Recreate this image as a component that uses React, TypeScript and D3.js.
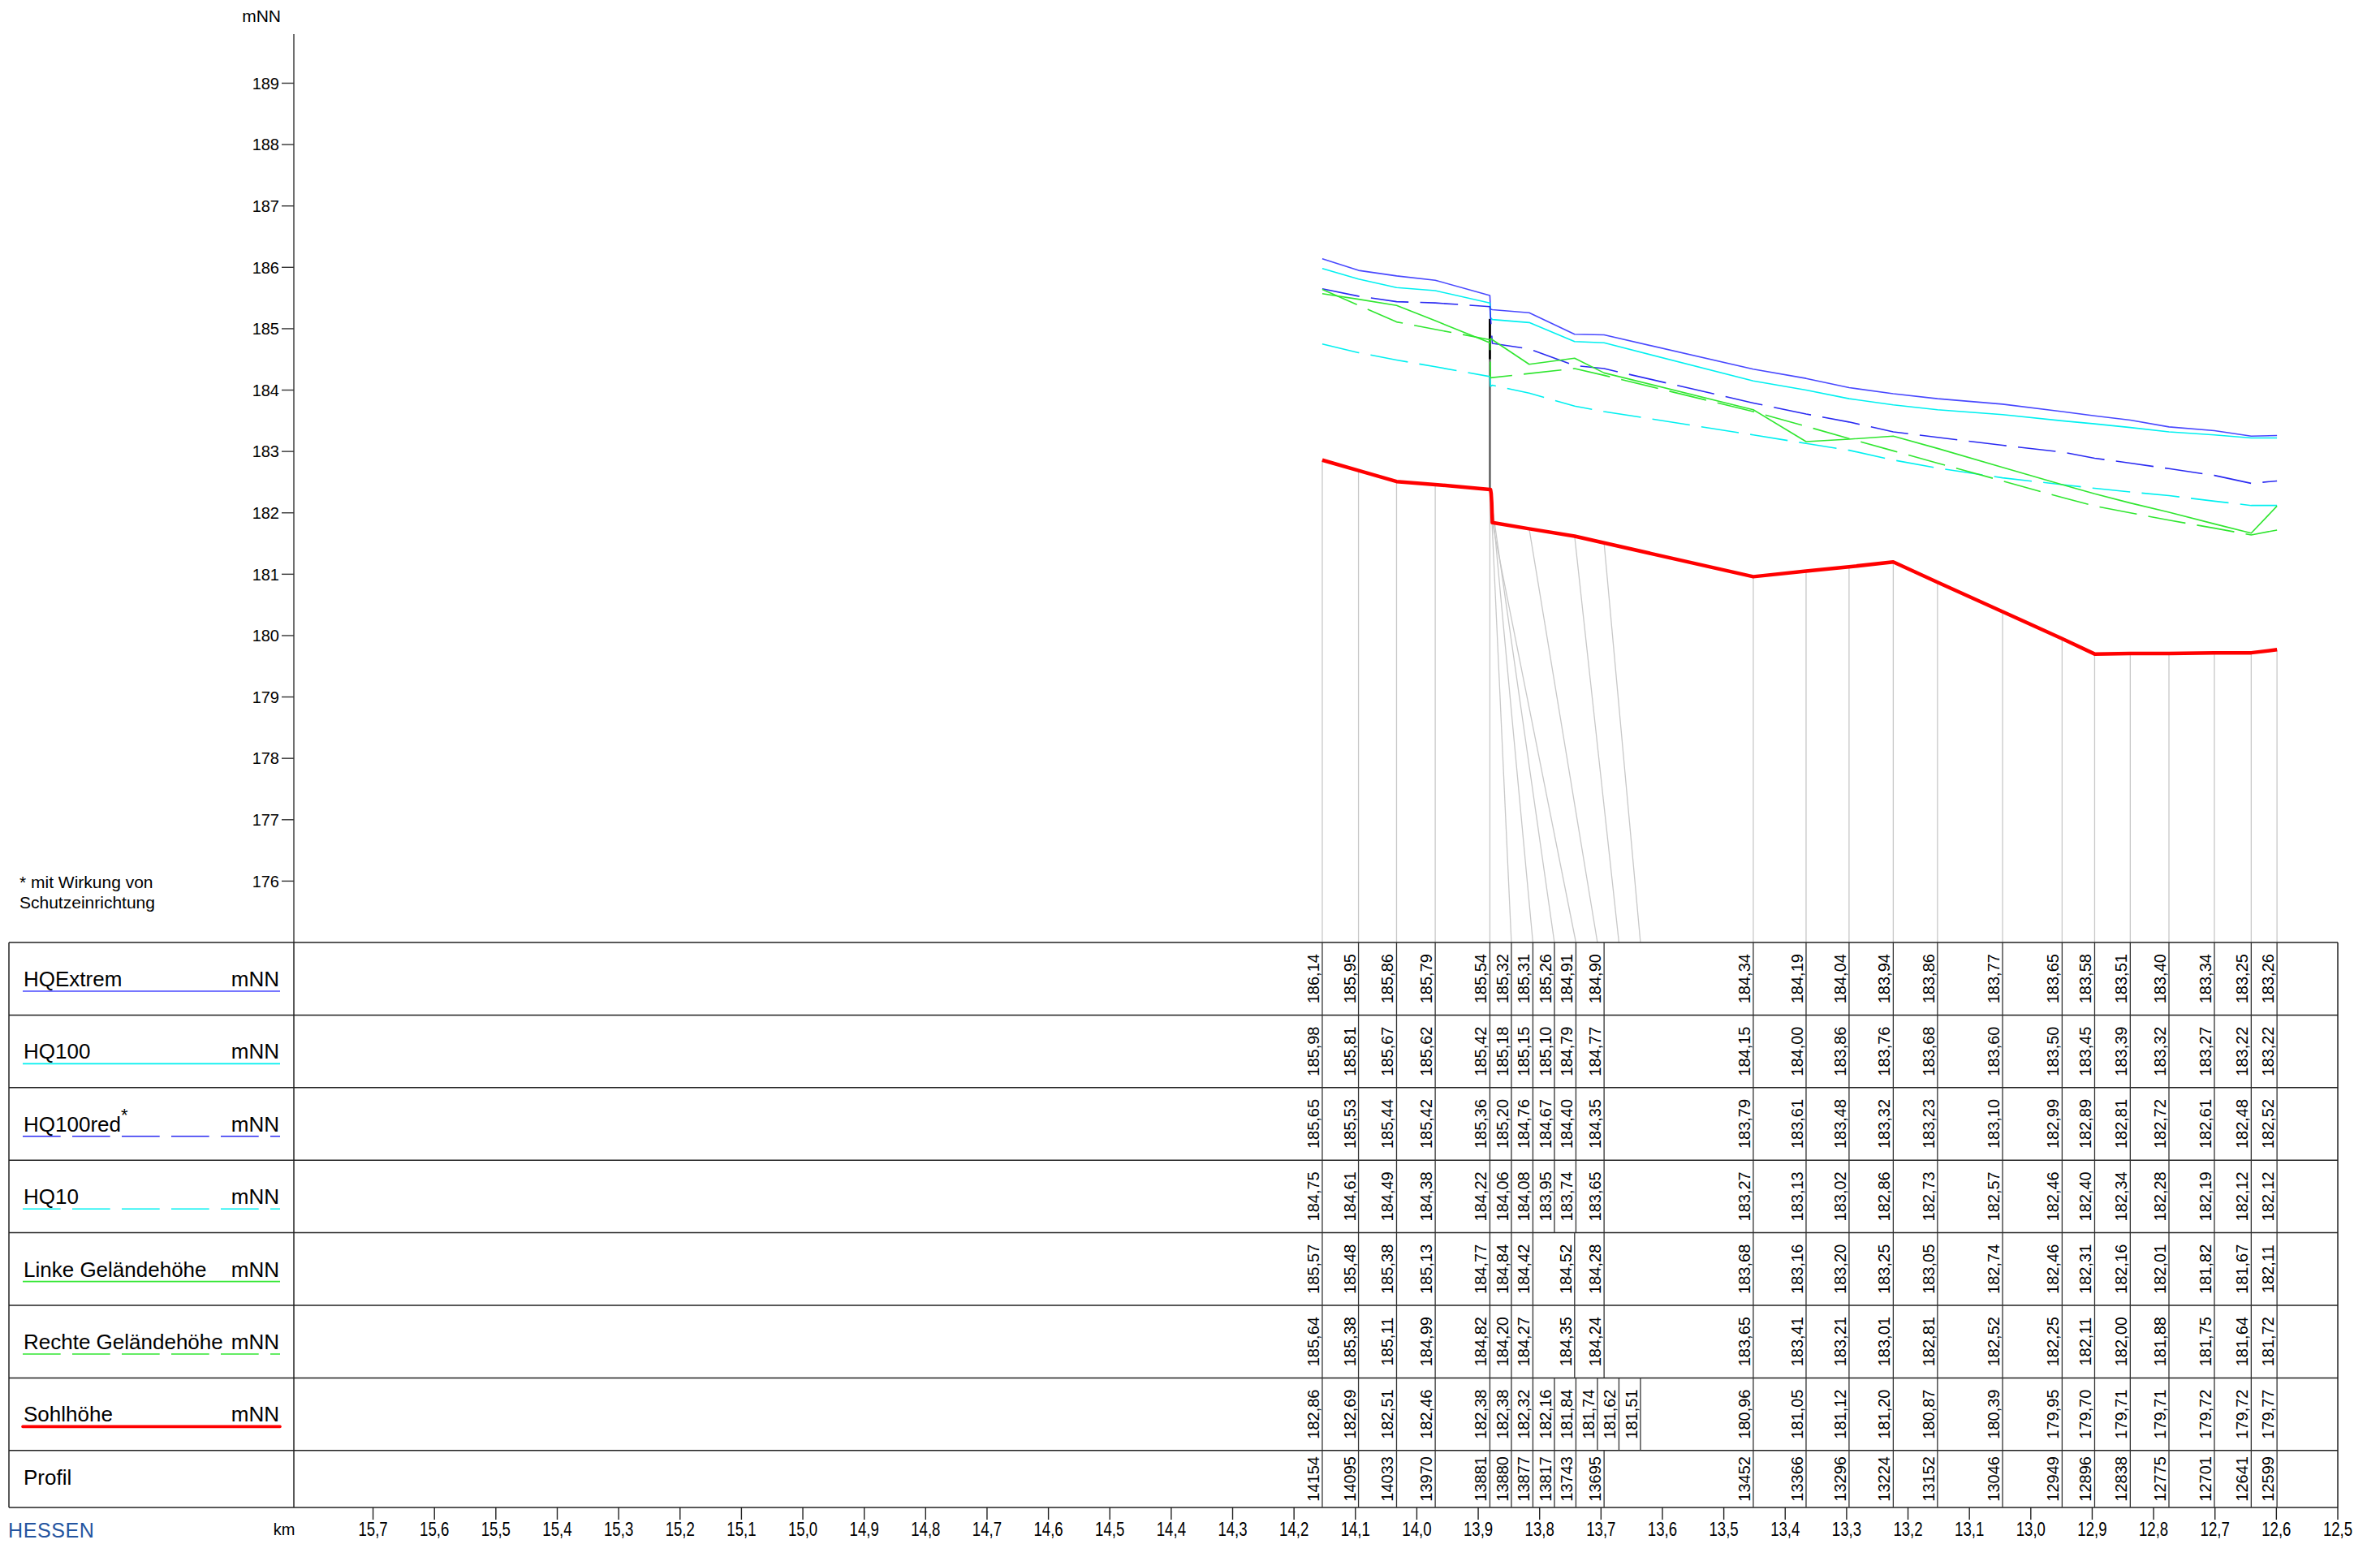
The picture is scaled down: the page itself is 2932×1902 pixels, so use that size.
import * as d3 from "d3";

// Profile stations in metres, left (upstream) to right
const profile = [14154, 14095, 14033, 13970, 13881, 13880, 13877, 13817, 13743, 13695, 13452, 13366, 13296, 13224, 13152, 13046, 12949, 12896, 12838, 12775, 12701, 12641, 12599];

const hqExtrem = [186.14, 185.95, 185.86, 185.79, 185.54, 185.32, 185.31, 185.26, 184.91, 184.90, 184.34, 184.19, 184.04, 183.94, 183.86, 183.77, 183.65, 183.58, 183.51, 183.40, 183.34, 183.25, 183.26];
const hq100 = [185.98, 185.81, 185.67, 185.62, 185.42, 185.18, 185.15, 185.10, 184.79, 184.77, 184.15, 184.00, 183.86, 183.76, 183.68, 183.60, 183.50, 183.45, 183.39, 183.32, 183.27, 183.22, 183.22];
const hq100red = [185.65, 185.53, 185.44, 185.42, 185.36, 185.20, 184.76, 184.67, 184.40, 184.35, 183.79, 183.61, 183.48, 183.32, 183.23, 183.10, 182.99, 182.89, 182.81, 182.72, 182.61, 182.48, 182.52];
const hq10 = [184.75, 184.61, 184.49, 184.38, 184.22, 184.06, 184.08, 183.95, 183.74, 183.65, 183.27, 183.13, 183.02, 182.86, 182.73, 182.57, 182.46, 182.40, 182.34, 182.28, 182.19, 182.12, 182.12];
const linke = [185.57, 185.48, 185.38, 185.13, 184.77, 184.84, null, 184.42, 184.52, 184.28, 183.68, 183.16, 183.20, 183.25, 183.05, 182.74, 182.46, 182.31, 182.16, 182.01, 181.82, 181.67, 182.11];
const rechte = [185.64, 185.38, 185.11, 184.99, 184.82, 184.20, null, 184.27, 184.35, 184.24, 183.65, 183.41, 183.21, 183.01, 182.81, 182.52, 182.25, 182.11, 182.00, 181.88, 181.75, 181.64, 181.72];

// Sohle has extra points at the structure near km 13,88
const sohleStation = [14154, 14095, 14033, 13970, 13881, 13880, 13879, 13878, 13877, 13817, 13743, 13695, 13452, 13366, 13296, 13224, 13152, 13046, 12949, 12896, 12838, 12775, 12701, 12641, 12599];
const sohle = [182.86, 182.69, 182.51, 182.46, 182.38, 182.38, 182.32, 182.16, 181.84, 181.74, 181.62, 181.51, 180.96, 181.05, 181.12, 181.20, 180.87, 180.39, 179.95, 179.70, 179.71, 179.71, 179.72, 179.72, 179.77];

// structure (bridge/weir) at 13881: top, underside of deck
const bauwerkStation = 13881;
const bauwerkLevels = [185.16, 184.5];

const yTicks = [176, 177, 178, 179, 180, 181, 182, 183, 184, 185, 186, 187, 188, 189];
const xTicks = [15.7, 15.6, 15.5, 15.4, 15.3, 15.2, 15.1, 15.0, 14.9, 14.8, 14.7, 14.6, 14.5, 14.4, 14.3, 14.2, 14.1, 14.0, 13.9, 13.8, 13.7, 13.6, 13.5, 13.4, 13.3, 13.2, 13.1, 13.0, 12.9, 12.8, 12.7, 12.6, 12.5];

const W = 2932;
const H = 1902;
const axisX = 362;
const rightX = 2880;
const tableLeft = 11;
const tableTop = 1161;
const rowH = 89.4;
const tableBottom = 1857;
const MIN_COL = 26.5;
const FONT = "'Liberation Sans', Arial, Helvetica, sans-serif";
const DASH = "46.7,14.3";

const BLUE = "#4848ff";
const BLUE_D = "#2a2af2";
const CYAN = "#00f0f0";
const GREEN = "#30e630";
const RED = "#ff0000";

const x = d3.scaleLinear().domain([15.829, 12.5]).range([axisX, rightX]);
const y = d3.scaleLinear().domain([175, 189.8]).range([tableTop, 42]);

const fmt = (v: number) => v.toFixed(2).replace(".", ",");
const fmtKm = (v: number) => v.toFixed(1).replace(".", ",");

type Col = { st: number; v: number; xs: number; cx: number };

// place columns at station, pushed right where labels would overlap
function layout(stations: number[], vals: (number | null)[]): Col[] {
  const out: Col[] = [];
  let prev = -Infinity;
  stations.forEach((st, i) => {
    const v = vals[i];
    if (v == null) return;
    const xs = x(st / 1000);
    const cx = Math.max(xs, prev + MIN_COL);
    prev = cx;
    out.push({ st, v, xs, cx });
  });
  return out;
}

const rows = [
  { label: "HQExtrem", star: false, stations: profile, values: hqExtrem, color: BLUE, dash: undefined, width: 1.6 },
  { label: "HQ100", star: false, stations: profile, values: hq100, color: CYAN, dash: undefined, width: 1.6 },
  { label: "HQ100red", star: true, stations: profile, values: hq100red, color: BLUE_D, dash: DASH, width: 1.6 },
  { label: "HQ10", star: false, stations: profile, values: hq10, color: CYAN, dash: DASH, width: 1.6 },
  { label: "Linke Geländehöhe", star: false, stations: profile, values: linke, color: GREEN, dash: undefined, width: 1.6 },
  { label: "Rechte Geländehöhe", star: false, stations: profile, values: rechte, color: GREEN, dash: DASH, width: 1.6 },
  { label: "Sohlhöhe", star: false, stations: sohleStation, values: sohle, color: RED, dash: undefined, width: 4.5 },
];

const line = d3
  .line<Col>()
  .x((d) => d.xs)
  .y((d) => y(d.v));

const App = () => {
  const layouts = rows.map((r) => layout(r.stations, r.values));
  const sohleCols = layouts[6];
  const profilCols = layout(profile, profile);
  const rowTops = d3.range(8).map((i) => tableTop + i * rowH);
  const bx = x(bauwerkStation / 1000);

  return (
    <div style={{ position: "absolute", left: 0, top: 0 }}>
      <svg width={W} height={H} style={{ display: "block", background: "#fff" }} fontFamily={FONT}>
        {/* y axis */}
        <line x1={axisX} x2={axisX} y1={42} y2={tableTop} stroke="#333" strokeWidth={1.4} />
        <text x={346} y={27} fontSize={21} textAnchor="end">mNN</text>
        {yTicks.map((t) => (
          <g key={t}>
            <line x1={axisX - 15} x2={axisX} y1={y(t)} y2={y(t)} stroke="#333" strokeWidth={1.4} />
            <text x={344} y={y(t)} dy="0.36em" fontSize={20} textAnchor="end">{t}</text>
          </g>
        ))}

        <text x={24} y={1094} fontSize={21}>* mit Wirkung von</text>
        <text x={24} y={1119} fontSize={21}>Schutzeinrichtung</text>

        {/* connector lines from Sohle to table columns */}
        {sohleCols.map((c, i) => (
          <line key={i} x1={c.xs} y1={y(c.v)} x2={c.cx} y2={tableTop} stroke="#c8c8c8" strokeWidth={1.3} />
        ))}

        {/* structure */}
        <line x1={bx} x2={bx} y1={y(bauwerkLevels[1])} y2={y(sohle[4])} stroke="#5a5a5a" strokeWidth={2.4} />
        <line x1={bx} x2={bx} y1={y(bauwerkLevels[0])} y2={y(bauwerkLevels[1])} stroke="#000" strokeWidth={2.8} />

        {/* profile lines */}
        {rows.map((r, i) => (
          <path
            key={r.label}
            d={line(layouts[i]) || ""}
            fill="none"
            stroke={r.color}
            strokeWidth={r.width}
            strokeDasharray={r.dash}
            strokeLinejoin="round"
          />
        ))}

        {/* table frame */}
        {rowTops.map((t, i) => (
          <line key={i} x1={tableLeft} x2={rightX} y1={t} y2={t} stroke="#222" strokeWidth={1.5} />
        ))}
        <line x1={tableLeft} x2={rightX} y1={tableBottom} y2={tableBottom} stroke="#222" strokeWidth={1.5} />
        <line x1={tableLeft} x2={tableLeft} y1={tableTop} y2={tableBottom} stroke="#222" strokeWidth={1.5} />
        <line x1={axisX} x2={axisX} y1={tableTop} y2={tableBottom} stroke="#222" strokeWidth={1.5} />
        <line x1={rightX} x2={rightX} y1={tableTop} y2={tableBottom} stroke="#222" strokeWidth={1.5} />

        {/* row labels */}
        {rows.map((r, i) => {
          const top = rowTops[i];
          return (
            <g key={r.label}>
              <text x={29} y={top + 54} fontSize={26}>
                {r.label}
                {r.star && <tspan fontSize={22} dy={-13}>*</tspan>}
              </text>
              <text x={344} y={top + 54} fontSize={26} textAnchor="end">mNN</text>
              <line
                x1={28}
                x2={345}
                y1={top + 60}
                y2={top + 60}
                stroke={r.color}
                strokeWidth={i === 6 ? 3.6 : 1.6}
                strokeLinecap={i === 6 ? "round" : "butt"}
                strokeDasharray={r.dash}
              />
            </g>
          );
        })}
        <text x={29} y={rowTops[7] + 42} fontSize={26}>Profil</text>

        {/* row values */}
        {rows.map((r, i) => {
          const top = rowTops[i];
          const mid = top + rowH / 2;
          return (
            <g key={r.label}>
              {layouts[i].map((c, j) => (
                <g key={j}>
                  <line x1={c.cx} x2={c.cx} y1={top} y2={top + rowH} stroke="#333" strokeWidth={1.3} />
                  <text transform={`translate(${c.cx - 4},${mid}) rotate(-90)`} textAnchor="middle" fontSize={20}>
                    {fmt(c.v)}
                  </text>
                </g>
              ))}
            </g>
          );
        })}
        {profilCols.map((c, j) => (
          <g key={j}>
            <line x1={c.cx} x2={c.cx} y1={rowTops[7]} y2={tableBottom} stroke="#333" strokeWidth={1.3} />
            <text transform={`translate(${c.cx - 4},${(rowTops[7] + tableBottom) / 2}) rotate(-90)`} textAnchor="middle" fontSize={20}>
              {c.st}
            </text>
          </g>
        ))}

        {/* km axis */}
        <text x={350} y={1891} fontSize={20} textAnchor="middle">km</text>
        {xTicks.map((t) => (
          <g key={t}>
            <line x1={x(t)} x2={x(t)} y1={tableBottom} y2={tableBottom + 15} stroke="#222" strokeWidth={1.4} />
            <text transform={`translate(${x(t)},1892) scale(0.76,1)`} fontSize={24.5} textAnchor="middle">
              {fmtKm(t)}
            </text>
          </g>
        ))}

        <text x={10} y={1894} fontSize={25} fill="#24549f" letterSpacing={0.6}>HESSEN</text>
      </svg>
    </div>
  );
};

export default App;
